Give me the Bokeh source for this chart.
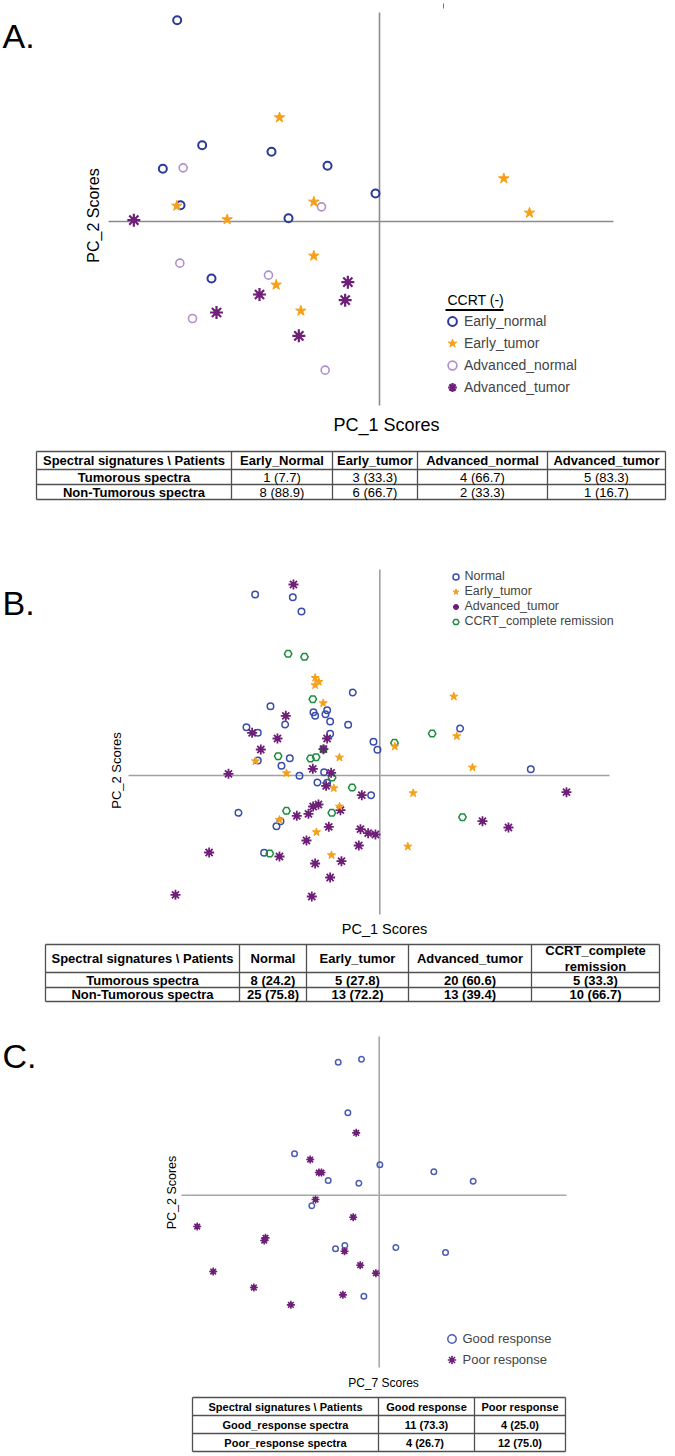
import math
from bokeh.plotting import figure
from bokeh.models import Range1d, Label, Legend, LegendItem, ColumnDataSource
from bokeh.layouts import column
from bokeh.embed import file_html
from bokeh.resources import INLINE
from bokeh.core.properties import value

FONT = "Liberation Sans"
W = 675

# ---------------- Panel A data (PC_1, PC_2 scores) ----------------
a_early_normal_x = [-6.07, -5.32, -6.50, -3.24, -1.56, -0.12, -5.97, -2.73, -5.04]
a_early_normal_y = [6.04, 2.29, 1.58, 2.09, 1.67, 0.84, 0.49, 0.10, -1.71]
a_early_tumor_x = [-3.00, -6.08, -4.57, -1.97, 3.73, 4.50, -1.97, -3.10, -2.36]
a_early_tumor_y = [3.12, 0.47, 0.06, 0.59, 1.29, 0.26, -1.03, -1.90, -2.68]
a_adv_normal_x = [-5.89, -1.74, -5.99, -3.33, -5.61, -1.63]
a_adv_normal_y = [1.61, 0.44, -1.25, -1.61, -2.91, -4.46]
a_adv_tumor_x = [-7.37, -3.60, -4.89, -2.42, -0.95, -1.03]
a_adv_tumor_y = [0.04, -2.19, -2.73, -3.43, -1.82, -2.36]

# ---------------- Panel B data ----------------
b_normal_x = [-3.74, -2.61, -2.35, -0.81, -3.28, -1.99, -1.58, -1.94, -1.63, -1.49, -2.84,
              -0.95, -4.00, -3.66, -1.49, -0.19, -0.07, 2.41, 4.53, -2.70, -2.95, -3.66,
              -2.41, -1.67, -1.87, -1.58, -0.26, -4.24, -2.98, -3.10, -3.47]
b_normal_y = [5.43, 5.35, 4.92, 2.49, 2.08, 1.90, 1.96, 1.79, 1.84, 1.62, 1.53,
              1.52, 1.45, 1.28, 1.25, 1.01, 0.77, 1.41, 0.19, 0.52, 0.29, 0.45,
              -0.01, 0.10, -0.21, -0.22, -0.59, -1.12, -1.37, -1.52, -2.32]
b_early_tumor_x = [-1.94, -1.83, -1.94, -1.70, 2.22, 2.31, 0.45, -1.21, -3.73, -2.80,
                   2.78, -1.38, 1.00, -1.21, -3.01, -1.90, 0.84, -1.45]
b_early_tumor_y = [2.93, 2.81, 2.71, 2.17, 2.37, 1.18, 0.87, 0.54, 0.43, 0.07,
                   0.24, -0.38, -0.53, -0.93, -1.33, -1.70, -2.13, -2.39]
b_adv_tumor_x = [-2.59, -2.82, -3.83, -3.07, -1.58, -3.57, -1.69, -4.54, -2.01, -1.46, -1.61,
                 -0.54, 5.60, -2.00, -1.84, -1.18, -2.49, -2.14, -1.53, -0.58, -0.35, -0.13,
                 3.08, 3.86, -2.20, -0.63, -5.12, -3.01, -1.15, -1.94, -1.49, -6.13, -2.04]
b_adv_tumor_y = [5.73, 1.79, 1.28, 1.11, 1.11, 0.78, 0.79, 0.05, 0.20, 0.08, -0.31,
                 -0.59, -0.50, -0.93, -0.87, -1.04, -1.21, -1.15, -1.54, -1.61, -1.73, -1.77,
                 -1.37, -1.56, -1.95, -2.10, -2.31, -2.43, -2.57, -2.64, -3.06, -3.58, -3.63]
b_ccrt_x = [-2.75, -2.26, -2.01, 1.57, 0.44, -3.05, -2.08, -1.91, -1.69, -1.43, -0.83,
            -2.80, -1.44, 2.48, -3.30]
b_ccrt_y = [3.65, 3.56, 2.29, 1.26, 0.98, 0.58, 0.51, 0.55, 0.79, -0.06, -0.36,
            -1.06, -1.12, -1.25, -2.34]

# ---------------- Panel C data (PC_7, PC_2 scores) ----------------
c_good_x = [-1.23, -0.53, -0.94, -2.54, 0.02, 1.64, 2.82, -1.53, -0.61, -2.02, -1.31,
            -1.03, 0.50, 1.99, -0.46]
c_good_y = [3.99, 4.08, 2.47, 1.24, 0.91, 0.70, 0.42, 0.44, 0.36, -0.32, -1.61,
            -1.51, -1.57, -1.72, -3.03]
c_poor_x = [-0.69, -2.07, -1.81, -1.73, -1.91, -0.78, -5.46, -3.41, -3.45, -1.04, -0.57,
            -0.10, -4.98, -3.76, -1.09, -2.65]
c_poor_y = [1.87, 1.07, 0.68, 0.68, -0.13, -0.66, -0.94, -1.28, -1.36, -1.68, -2.10,
            -2.34, -2.29, -2.77, -2.99, -3.29]

# ---------------- Tables ----------------
ta_header = ["Spectral signatures \\ Patients", "Early_Normal", "Early_tumor",
             "Advanced_normal", "Advanced_tumor"]
ta_rows = ["Tumorous spectra", "Non-Tumorous spectra"]
ta_tumorous = ["1 (7.7)", "3 (33.3)", "4 (66.7)", "5 (83.3)"]
ta_non_tumorous = ["8 (88.9)", "6 (66.7)", "2 (33.3)", "1 (16.7)"]

tb_header = ["Spectral signatures \\ Patients", "Normal", "Early_tumor",
             "Advanced_tumor", "CCRT_complete\nremission"]
tb_rows = ["Tumorous spectra", "Non-Tumorous spectra"]
tb_tumorous = ["8 (24.2)", "5 (27.8)", "20 (60.6)", "5 (33.3)"]
tb_non_tumorous = ["25 (75.8)", "13 (72.2)", "13 (39.4)", "10 (66.7)"]

tc_header = ["Spectral signatures \\ Patients", "Good response", "Poor response"]
tc_rows = ["Good_response spectra", "Poor_response spectra"]
tc_good = ["11 (73.3)", "4 (25.0)"]
tc_poor = ["4  (26.7)", "12 (75.0)"]

BLUE_A = "#2a3a96"
ORANGE = "#f6a01a"
LILAC = "#b08fcc"
PURPLE = "#6e1f78"
BLUE_B = "#3a4ca8"
GREEN = "#1e8c3e"
BLUE_C = "#4c5cb4"
AXIS_C = "#8c8c8c"
K = 0.03


def scatter_fig(height, xr, yr):
    p = figure(width=W, height=height, x_range=Range1d(*xr), y_range=Range1d(*yr),
               output_backend="svg", toolbar_location=None,
               x_axis_location=None, y_axis_location=None, min_border=0)
    p.outline_line_color = None
    p.grid.visible = False
    return p


def add_label(p, x, y, text, size, align="center", baseline="middle", angle=0.0):
    p.add_layout(Label(x=x, y=y, text=text, text_font=FONT, text_font_size=size,
                       text_align=align, text_baseline=baseline, angle=angle,
                       text_color="black"))


def burst(p, xs, ys, size, lw, color, dot):
    r = p.scatter(xs, ys, marker="asterisk", size=size, line_color=color, line_width=lw)
    p.scatter(xs, ys, marker="circle", size=dot, fill_color=color, line_color=None)
    return r


def make_legend(items, marker_x, last_y, fig_bottom, g, standoff, fsize):
    loc = (marker_x - g / 2, fig_bottom - (last_y + g / 2))
    return Legend(items=[LegendItem(label=l, renderers=[r]) for l, r in items],
                  location=loc, glyph_width=g, glyph_height=g, label_height=g,
                  spacing=0, padding=0, margin=0, label_standoff=standoff,
                  label_text_font=FONT, label_text_font_size=fsize,
                  border_line_color=None, background_fill_alpha=0)


# ================= Panel A (page y 0..445) =================
def axA(px): return (px - 379) * K
def ayA(py): return (221 - py) * K

pa = scatter_fig(445, (axA(0), axA(675)), (ayA(445), ayA(0)))
A_HLINE = (axA(108), axA(613))
A_VLINE = (ayA(405), ayA(12))
pa.segment(x0=[A_HLINE[0], 0], y0=[0, A_VLINE[0]], x1=[A_HLINE[1], 0], y1=[0, A_VLINE[1]],
           line_color=AXIS_C, line_width=1.6)
pa.segment(x0=[axA(443)], y0=[ayA(3)], x1=[axA(443)], y1=[ayA(8)], line_color="#777777",
           line_width=1)
r_an = pa.scatter(a_adv_normal_x, a_adv_normal_y, marker="circle", size=8, fill_color=None,
                  line_color=LILAC, line_width=1.6)
r_en = pa.scatter(a_early_normal_x, a_early_normal_y, marker="circle", size=8, fill_color=None,
                  line_color=BLUE_A, line_width=2)
r_at = burst(pa, a_adv_tumor_x, a_adv_tumor_y, 13, 2.2, PURPLE, 6)
r_et = pa.scatter(a_early_tumor_x, a_early_tumor_y, marker="star", size=11, fill_color=ORANGE,
                  line_color=ORANGE)
pa.add_layout(make_legend([("Early_normal", r_en), ("Early_tumor", r_et),
                           ("Advanced_normal", r_an), ("Advanced_tumor", r_at)],
                          452, 387, 445, 22, 1, "14px"))
add_label(pa, axA(447), ayA(299), "CCRT (-)", "14px", align="left")
pa.segment(x0=[axA(445)], y0=[ayA(309.5)], x1=[axA(503)], y1=[ayA(309.5)],
           line_color="black", line_width=2)
add_label(pa, axA(2), ayA(35), "A.", "34px", align="left", baseline="alphabetic")
add_label(pa, axA(386), ayA(424), "PC_1 Scores", "18px")
add_label(pa, axA(93), ayA(215), "PC_2 Scores", "16px", angle=math.pi / 2)


# ================= Table helper =================
def table_fig(top, height, xe, ye, header, rows, cols_vals, fsize, val_bold, lpitch):
    p = figure(width=W, height=height, x_range=Range1d(0, W),
               y_range=Range1d(top + height, top), output_backend="svg",
               toolbar_location=None, x_axis_location=None, y_axis_location=None,
               min_border=0)
    p.outline_line_color = None
    p.grid.visible = False
    p.segment(x0=[xe[0]] * len(ye), y0=ye, x1=[xe[-1]] * len(ye), y1=ye,
              line_color="#505050", line_width=1.3)
    p.segment(x0=xe, y0=[ye[0]] * len(xe), x1=xe, y1=[ye[-1]] * len(xe),
              line_color="#505050", line_width=1.3)
    xs, ys, txt, sty = [], [], [], []
    xc = [(xe[i] + xe[i + 1]) / 2 for i in range(len(xe) - 1)]
    yc = [(ye[i] + ye[i + 1]) / 2 for i in range(len(ye) - 1)]
    for i, h in enumerate(header):
        lines = h.split("\n")
        for j, ln in enumerate(lines):
            xs.append(xc[i]); ys.append(yc[0] + (j - (len(lines) - 1) / 2) * lpitch)
            txt.append(ln); sty.append("bold")
    for r, lab in enumerate(rows):
        xs.append(xc[0]); ys.append(yc[r + 1]); txt.append(lab); sty.append("bold")
        for c, v in enumerate(cols_vals[r]):
            xs.append(xc[c + 1]); ys.append(yc[r + 1]); txt.append(v)
            sty.append("bold" if val_bold else "normal")
    src = ColumnDataSource(dict(x=xs, y=ys, text=txt, style=sty))
    p.text(x="x", y="y", text="text", source=src, text_font=value(FONT),
           text_font_size=fsize, text_font_style="style", text_align="center",
           text_baseline="middle", text_color="black")
    return p


ta = table_fig(445, 60, [36, 231, 332, 417, 547, 665], [451, 469, 484, 499],
               ta_header, ta_rows, [ta_tumorous, ta_non_tumorous], "13px", False, 16)


# ================= Panel B (page y 505..938) =================
def axB(px): return (px - 379.3) * K
def ayB(py): return (775 - py) * K

pb = scatter_fig(433, (axB(0), axB(675)), (ayB(938), ayB(505)))
B_HLINE = (axB(128), axB(609))
B_VLINE = (ayB(914), ayB(569))
pb.segment(x0=[B_HLINE[0], 0], y0=[0, B_VLINE[0]], x1=[B_HLINE[1], 0], y1=[0, B_VLINE[1]],
           line_color="#a0a0a0", line_width=1.6)
r_bn = pb.scatter(b_normal_x, b_normal_y, marker="circle", size=6.5, fill_color=None,
                  line_color=BLUE_B, line_width=1.5)
r_bc = pb.scatter(b_ccrt_x, b_ccrt_y, marker="hex", size=7.5, fill_color=None,
                  line_color=GREEN, line_width=1.5)
r_bat = burst(pb, b_adv_tumor_x, b_adv_tumor_y, 10, 1.8, PURPLE, 5)
r_bet = pb.scatter(b_early_tumor_x, b_early_tumor_y, marker="star", size=8.5,
                   fill_color=ORANGE, line_color=ORANGE)
pb.add_layout(make_legend([("Normal", r_bn), ("Early_tumor", r_bet),
                           ("Advanced_tumor", r_bat), ("CCRT_complete remission", r_bc)],
                          455, 621, 938, 15, 2, "12.5px"))
add_label(pb, axB(2), ayB(602), "B.", "34px", align="left", baseline="alphabetic")
add_label(pb, axB(384), ayB(928), "PC_1 Scores", "14.5px")
add_label(pb, axB(116), ayB(770), "PC_2 Scores", "13px", angle=math.pi / 2)

tb = table_fig(938, 70, [45, 239, 306, 408, 531, 659], [944, 972, 987, 1001],
               tb_header, tb_rows, [tb_tumorous, tb_non_tumorous], "13px", True, 16)


# ================= Panel C (page y 1008..1390) =================
def axC(px): return (px - 378.7) * K
def ayC(py): return (1194.7 - py) * K

pc = scatter_fig(382, (axC(0), axC(675)), (ayC(1390), ayC(1008)))
C_HLINE = (axC(181), axC(566))
C_VLINE = (ayC(1367), ayC(1036))
pc.segment(x0=[C_HLINE[0], 0], y0=[0, C_VLINE[0]], x1=[C_HLINE[1], 0], y1=[0, C_VLINE[1]],
           line_color="#a8a8a8", line_width=1.6)
r_cg = pc.scatter(c_good_x, c_good_y, marker="circle", size=5.5, fill_color=None,
                  line_color=BLUE_C, line_width=1.5)
r_cp = burst(pc, c_poor_x, c_poor_y, 8, 1.6, PURPLE, 5)
pc.add_layout(make_legend([("Good response", r_cg), ("Poor response", r_cp)],
                          451, 1359, 1390, 21, 1, "13px"))
add_label(pc, axC(2), ayC(1055), "C.", "34px", align="left", baseline="alphabetic")
add_label(pc, axC(383), ayC(1382), "PC_7 Scores", "12px")
add_label(pc, axC(171), ayC(1192), "PC_2 Scores", "12.5px", angle=math.pi / 2)

tc = table_fig(1390, 66, [192, 378, 474, 565], [1397, 1415, 1433, 1451],
               tc_header, tc_rows, [[tc_good[0], tc_good[1]], [tc_poor[0], tc_poor[1]]],
               "11px", True, 13)

layout = column(pa, ta, pb, tb, pc, tc, spacing=0)
open("out.html", "w").write(file_html(layout, INLINE))
